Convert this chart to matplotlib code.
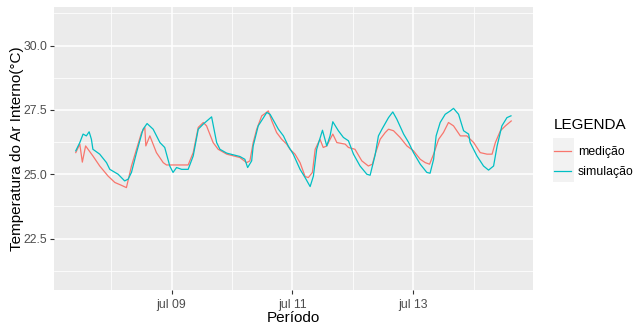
import numpy as np
import pandas as pd
import matplotlib
matplotlib.use("Agg")
import matplotlib.pyplot as plt
from matplotlib.patches import Rectangle

plt.rcParams["font.family"] = ["Liberation Sans", "DejaVu Sans"]

# hours since jul 07 00:00, temperatures
med_h = [10.0, 11.6, 12.6, 13.9, 16.8, 19.5, 22.8, 25.5, 28.1, 30.1, 32.1, 34.1,
         36.1, 37.4, 37.8, 39.4, 42.0, 44.7, 46.0, 54.6, 56.6, 58.6, 60.6, 61.9,
         64.5, 66.5, 69.9, 75.1, 77.8, 79.1, 80.4, 81.8, 83.8, 85.1, 86.4, 87.8,
         89.7, 91.7, 93.7, 95.0, 97.0, 99.0, 101.0, 102.3, 103.9, 105.0, 106.9,
         108.2, 109.6, 111.3, 112.0, 113.6, 116.9, 118.2, 120.8, 123.5, 126.1,
         127.7, 128.8, 130.8, 132.8, 134.1, 136.1, 138.7, 141.4, 144.0, 146.7,
         148.7, 150.4, 152.0, 154.0, 155.9, 157.9, 159.9, 162.6, 165.2, 167.9,
         170.5, 173.2, 175.2, 176.5, 178.5, 180.5, 182.8]
med_t = [25.84, 26.17, 25.47, 26.10, 25.71, 25.32, 24.93, 24.68, 24.57, 24.48, 25.32, 25.97,
         26.62, 26.82, 26.10, 26.49, 25.84, 25.45, 25.36, 25.36, 25.84, 26.82, 27.01, 26.88,
         26.23, 25.97, 25.78, 25.65, 25.45, 25.52, 26.23, 26.75, 27.27, 27.36, 27.46, 27.07,
         26.62, 26.36, 26.17, 25.97, 25.78, 25.45, 24.91, 24.87, 25.07, 25.97, 26.36,
         26.04, 26.10, 26.43, 26.56, 26.23, 26.17, 26.04, 25.97, 25.52, 25.32,
         25.39, 25.78, 26.36, 26.62, 26.75, 26.69, 26.43, 26.10, 25.91, 25.58,
         25.45, 25.39, 25.78, 26.36, 26.62, 27.01, 26.88, 26.49, 26.49, 26.23,
         25.84, 25.78, 25.78, 26.23, 26.69, 26.88, 27.07]

sim_h = [10.0, 11.6, 12.9, 14.2, 15.3, 16.2, 16.8, 19.5, 22.2, 23.5, 26.8, 29.4,
         30.8, 32.1, 34.1, 36.7, 38.3, 40.7, 43.4, 45.3, 47.3, 48.6, 50.0, 52.0,
         54.6, 56.6, 58.6, 60.6, 63.9, 65.9, 67.2, 69.9, 75.1, 77.1, 78.2, 79.8,
         80.4, 82.4, 85.8, 87.1, 90.4, 92.4, 94.3, 96.3, 99.0, 101.0, 103.0, 104.3,
         105.6, 107.9, 109.6, 110.9, 112.0, 114.2, 116.2, 118.2, 120.2, 122.8,
         125.5, 126.8, 128.8, 130.1, 131.5, 134.1, 135.8, 137.4, 140.1, 142.1,
         144.0, 146.7, 149.3, 150.6, 152.0, 153.0, 154.6, 156.6, 158.6, 159.9,
         161.9, 163.9, 165.9, 166.5, 169.2, 171.8, 173.8, 175.8, 177.2, 179.1,
         181.1, 182.7]
sim_t = [25.91, 26.23, 26.56, 26.49, 26.65, 26.36, 25.97, 25.78, 25.45, 25.19, 25.00, 24.74,
         24.81, 25.07, 25.84, 26.75, 26.97, 26.75, 26.23, 26.04, 25.32, 25.07, 25.26, 25.19,
         25.19, 25.71, 26.75, 26.95, 27.23, 26.23, 25.97, 25.82, 25.69, 25.58, 25.26, 25.52,
         26.10, 26.88, 27.40, 27.33, 26.75, 26.49, 26.10, 25.78, 25.19, 24.87, 24.52, 24.93,
         25.97, 26.71, 26.10, 26.49, 27.04, 26.69, 26.43, 26.30, 25.78, 25.32,
         25.00, 24.96, 25.75, 26.49, 26.75, 27.20, 27.42, 27.14, 26.56, 26.23,
         25.84, 25.39, 25.07, 25.04, 25.58, 26.49, 27.01, 27.33, 27.46, 27.56,
         27.33, 26.69, 26.56, 26.23, 25.71, 25.32, 25.16, 25.32, 26.10, 26.88,
         27.20, 27.27]

start = pd.Timestamp("2020-07-07 00:00")
tick_days = ["2020-07-09", "2020-07-11", "2020-07-13"]
tick_labels = ["jul 09", "jul 11", "jul 13"]
minor_days = ["2020-07-08", "2020-07-10", "2020-07-12", "2020-07-14"]
y_ticks = [22.5, 25.0, 27.5, 30.0]
y_minor = [21.25, 23.75, 26.25, 28.75, 31.25]

med_x = start + pd.to_timedelta(med_h, unit="h")
sim_x = start + pd.to_timedelta(sim_h, unit="h")

fig = plt.figure(figsize=(6.38, 3.26), dpi=100)
ax = fig.add_axes([54 / 638, 1 - 290 / 326, 479 / 638, 283 / 326])
ax.set_facecolor("#EBEBEB")
for s in ax.spines.values():
    s.set_visible(False)

ax.plot(med_x, med_t, color="#F8766D", lw=0.9, label="medição")
ax.plot(sim_x, sim_t, color="#00BFC4", lw=0.9, label="simulação")

# ggplot-like 5% expansion on x
x0 = min(med_x.min(), sim_x.min())
x1 = max(med_x.max(), sim_x.max())
pad = (x1 - x0) * 0.05
ax.set_xlim(x0 - pad, x1 + pad)
ax.set_ylim(20.5, 31.5)

ax.set_xticks(pd.to_datetime(tick_days), tick_labels)
ax.set_xticks(pd.to_datetime(minor_days), minor=True)
ax.set_yticks(y_ticks, [f"{v:.1f}" for v in y_ticks])
ax.set_yticks(y_minor, minor=True)

ax.grid(which="major", color="white", lw=1.1)
ax.grid(which="minor", color="white", lw=0.55)
ax.set_axisbelow(True)
ax.tick_params(which="major", length=2.75, width=0.8, color="#333333",
               labelsize=8.8, labelcolor="#4D4D4D", pad=2.2)
ax.tick_params(axis="x", which="major", pad=4.0)
ax.tick_params(which="minor", length=0)

ax.set_xlabel("Período", fontsize=11, labelpad=0)
ax.set_ylabel("Temperatura do Ar Interno(°C)", fontsize=11, labelpad=-0.5)

leg = ax.legend(loc="upper left", bbox_to_anchor=(545 / 638, 1 - 109 / 326),
                bbox_transform=fig.transFigure, frameon=False, title="LEGENDA",
                fontsize=8.8, title_fontsize=11, handlelength=1.4,
                handletextpad=0.6, labelspacing=0.65, borderpad=0.2)
leg._legend_box.align = "left"
leg._legend_box.sep = 10.5
fig.patches.append(Rectangle((553 / 638, 1 - 182 / 326), 21 / 638, 44 / 326,
                             transform=fig.transFigure, facecolor="#F2F2F2",
                             edgecolor="none", zorder=-1))

fig.savefig("out.png", dpi=100)
